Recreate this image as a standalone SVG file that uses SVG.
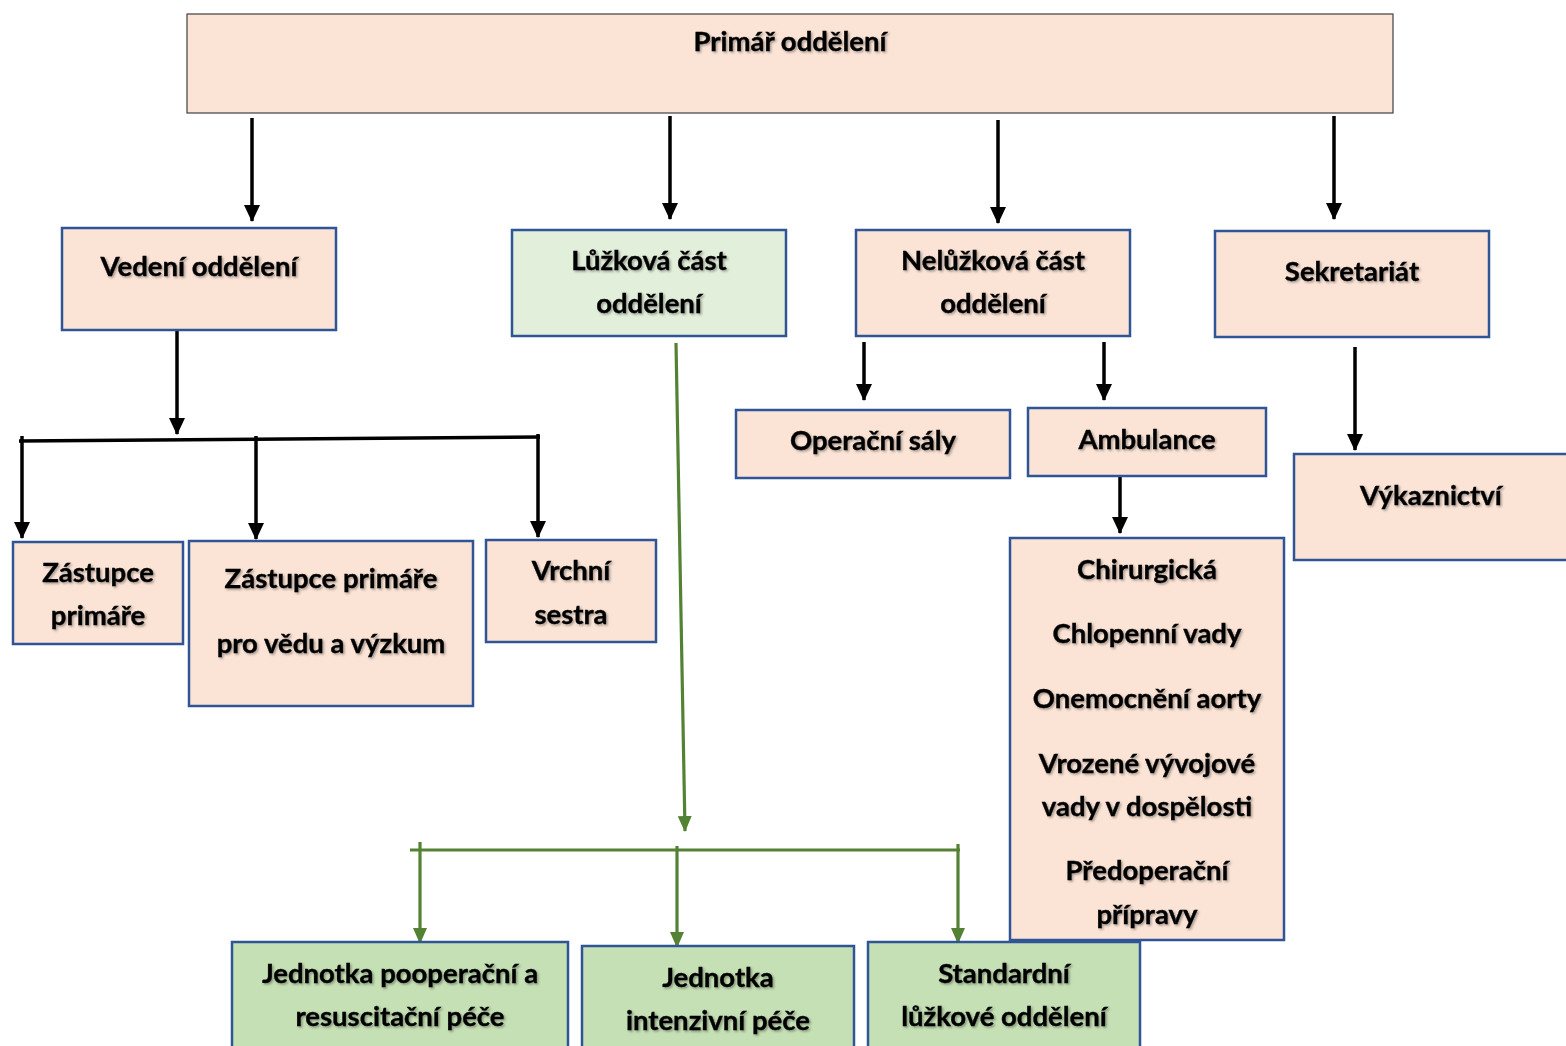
<svg xmlns="http://www.w3.org/2000/svg" width="1566" height="1046" viewBox="0 0 1566 1046">
<style>
.box{fill:#FBE4D6;stroke:#2F5597;stroke-width:2.5}
.g1{fill:#E2EFDA}
.g2{fill:#C5E0B4}
.top{fill:#FBE4D6;stroke:#404040;stroke-width:1.2}
text{font-family:Lato,"Open Sans","Liberation Sans",sans-serif;font-weight:bold;font-size:27.5px;fill:#000;stroke:#000;stroke-width:0.35;text-anchor:middle;filter:url(#sh)}
.k{stroke:#000;stroke-width:3.5;fill:none}
.gr{stroke:#548235;stroke-width:3.2;fill:none}
</style>
<defs>
<filter id="sh" x="-10%" y="-30%" width="120%" height="160%">
<feDropShadow dx="1.5" dy="1.5" stdDeviation="1" flood-color="#000" flood-opacity="0.35"/>
</filter>
<marker id="ak" markerUnits="userSpaceOnUse" markerWidth="17" markerHeight="18" refX="16" refY="8" orient="auto" viewBox="0 0 17 16">
<path d="M0,0 L17,8 L0,16 Z" fill="#000"/>
</marker>
<marker id="ag" markerUnits="userSpaceOnUse" markerWidth="16" markerHeight="18" refX="15" refY="7" orient="auto" viewBox="0 0 16 14">
<path d="M0,0 L16,7 L0,14 Z" fill="#548235"/>
</marker>
</defs>

<g id="connectors">
<line class="k" x1="252" y1="118" x2="252" y2="221" marker-end="url(#ak)"/>
<line class="k" x1="670" y1="116" x2="670" y2="219" marker-end="url(#ak)"/>
<line class="k" x1="998" y1="120" x2="998" y2="223" marker-end="url(#ak)"/>
<line class="k" x1="1334" y1="116" x2="1334" y2="219" marker-end="url(#ak)"/>
<line class="k" x1="177" y1="331" x2="177" y2="434" marker-end="url(#ak)"/>
<line class="k" x1="19" y1="441" x2="540" y2="437"/>
<line class="k" x1="22" y1="436" x2="22" y2="538" marker-end="url(#ak)"/>
<line class="k" x1="256" y1="436" x2="256" y2="539" marker-end="url(#ak)"/>
<line class="k" x1="538" y1="434" x2="538" y2="537" marker-end="url(#ak)"/>
<line class="k" x1="864" y1="342" x2="864" y2="400" marker-end="url(#ak)"/>
<line class="k" x1="1104" y1="342" x2="1104" y2="400" marker-end="url(#ak)"/>
<line class="k" x1="1120" y1="477" x2="1120" y2="533" marker-end="url(#ak)"/>
<line class="k" x1="1355" y1="347" x2="1355" y2="450" marker-end="url(#ak)"/>
<line class="gr" x1="676" y1="343" x2="685" y2="831" marker-end="url(#ag)"/>
<line class="gr" x1="410" y1="850" x2="960" y2="850"/>
<line class="gr" x1="420" y1="842" x2="420" y2="943" marker-end="url(#ag)"/>
<line class="gr" x1="677" y1="846" x2="677" y2="947" marker-end="url(#ag)"/>
<line class="gr" x1="958" y1="844" x2="958" y2="943" marker-end="url(#ag)"/>
</g>

<g id="primar">
<rect class="top" x="187" y="14" width="1206" height="99"/>
<text x="790" y="51" font-size="25.5">Primář oddělení</text>
</g>
<g id="vedeni">
<rect class="box" x="62" y="228" width="274" height="102"/>
<text x="199" y="276">Vedení oddělení</text>
</g>
<g id="luzkova">
<rect class="box g1" x="512" y="230" width="274" height="106"/>
<text x="649" y="270">Lůžková část</text>
<text x="649" y="313">oddělení</text>
</g>
<g id="neluzkova">
<rect class="box" x="856" y="230" width="274" height="106"/>
<text x="993" y="270">Nelůžková část</text>
<text x="993" y="313">oddělení</text>
</g>
<g id="sekretariat">
<rect class="box" x="1215" y="231" width="274" height="106"/>
<text x="1352" y="281">Sekretariát</text>
</g>
<g id="zastupce">
<rect class="box" x="13" y="542" width="170" height="102"/>
<text x="98" y="582">Zástupce</text>
<text x="98" y="625">primáře</text>
</g>
<g id="zastupce-veda">
<rect class="box" x="189" y="541" width="284" height="165"/>
<text x="331" y="588">Zástupce primáře</text>
<text x="331" y="653">pro vědu a výzkum</text>
</g>
<g id="vrchni">
<rect class="box" x="486" y="540" width="170" height="102"/>
<text x="571" y="580">Vrchní</text>
<text x="571" y="624">sestra</text>
</g>
<g id="operacni">
<rect class="box" x="736" y="410" width="274" height="68"/>
<text x="873" y="450">Operační sály</text>
</g>
<g id="ambulance">
<rect class="box" x="1028" y="408" width="238" height="68"/>
<text x="1147" y="449">Ambulance</text>
</g>
<g id="ambulance-list">
<rect class="box" x="1010" y="538" width="274" height="402"/>
<text x="1147" y="579">Chirurgická</text>
<text x="1147" y="643">Chlopenní vady</text>
<text x="1147" y="708">Onemocnění aorty</text>
<text x="1147" y="773">Vrozené vývojové</text>
<text x="1147" y="816">vady v dospělosti</text>
<text x="1147" y="880">Předoperační</text>
<text x="1147" y="924">přípravy</text>
</g>
<g id="vykaznictvi">
<rect class="box" x="1294" y="454" width="280" height="106"/>
<text x="1431" y="505">Výkaznictví</text>
</g>
<g id="jip-pooperacni">
<rect class="box g2" x="232" y="942" width="336" height="110"/>
<text x="400" y="983">Jednotka pooperační a</text>
<text x="400" y="1026">resuscitační péče</text>
</g>
<g id="jip">
<rect class="box g2" x="582" y="946" width="272" height="110"/>
<text x="718" y="987">Jednotka</text>
<text x="718" y="1030">intenzivní péče</text>
</g>
<g id="standardni">
<rect class="box g2" x="868" y="942" width="272" height="110"/>
<text x="1004" y="983">Standardní</text>
<text x="1004" y="1026">lůžkové oddělení</text>
</g>
</svg>
